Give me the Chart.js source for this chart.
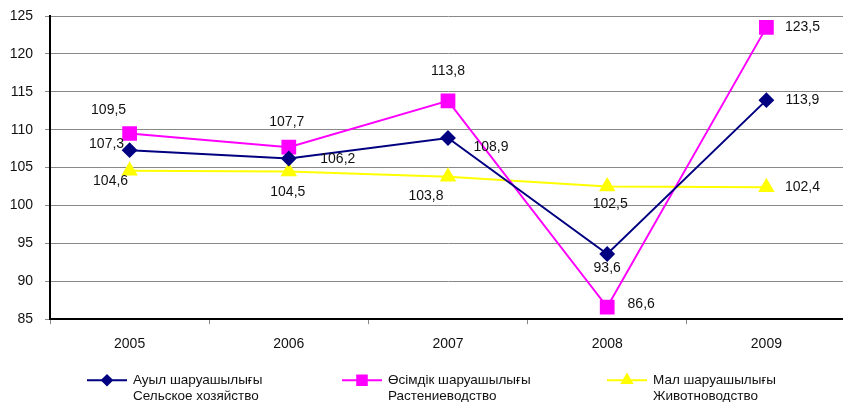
<!DOCTYPE html>
<html>
<head>
<meta charset="utf-8">
<script src="https://cdn.jsdelivr.net/npm/chart.js@4/dist/chart.umd.min.js"></script>
<style>
html,body{margin:0;padding:0;background:#fff;overflow:hidden;}
#wrap{width:843px;height:402px;overflow:hidden;position:relative;}
#c{position:absolute;left:0;top:0;}
</style>
</head>
<body>
<div id="wrap"><canvas id="c" width="857" height="402"></canvas></div>
<script>
const categories = ['2005', '2006', '2007', '2008', '2009'];
const agriculture = [107.3, 106.2, 108.9, 93.6, 113.9];
const cropProduction = [109.5, 107.7, 113.8, 86.6, 123.5];
const livestock = [104.6, 104.5, 103.8, 102.5, 102.4];
const seriesNames = [
  ['Ауыл шаруашылығы', 'Сельское хозяйство'],
  ['Өсімдік шаруашылығы', 'Растениеводство'],
  ['Мал шаруашылығы', 'Животноводство']
];
const yMin = 85, yMax = 125, yStep = 5;

// label offsets (px) relative to each point
const labelOffsets = [
  [[-23,-6],[49,1],[43,9],[0,14],[36,0]],
  [[-21,-23],[-2,-25],[0,-30],[34,-3],[36,0]],
  [[-19,11],[-1,21],[-22,19],[3,18],[36,0]]
];

const FONT = '"Liberation Sans", Arial, sans-serif';
const fmt = v => v.toFixed(1).replace('.', ',');

const labelPlugin = {
  id: 'labels',
  afterDatasetsDraw(chart) {
    const ctx = chart.ctx;
    ctx.save();
    ctx.font = '14px ' + FONT;
    ctx.fillStyle = '#111';
    ctx.textAlign = 'center';
    ctx.textBaseline = 'middle';
    chart.data.datasets.forEach((ds, i) => {
      const meta = chart.getDatasetMeta(i);
      meta.data.forEach((pt, j) => {
        const o = labelOffsets[i][j];
        ctx.fillText(fmt(ds.data[j]), pt.x + o[0], pt.y + o[1]);
      });
    });
    ctx.restore();
  }
};

const legendPlugin = {
  id: 'customLegend',
  afterDraw(chart) {
    const ctx = chart.ctx;
    const y = chart.chartArea.bottom + 61;
    const starts = [87, 342, 607];
    ctx.save();
    chart.data.datasets.forEach((ds, i) => {
      const x0 = starts[i];
      ctx.strokeStyle = ds.borderColor;
      ctx.lineWidth = 2;
      ctx.beginPath();
      ctx.moveTo(x0, y);
      ctx.lineTo(x0 + 40, y);
      ctx.stroke();
      ctx.fillStyle = ds.borderColor;
      Chart.helpers.drawPoint(ctx, {
        pointStyle: ds.pointStyle,
        radius: ds.pointRadius * 0.75,
        borderWidth: 1
      }, x0 + 20, y);
      ctx.fillStyle = '#111';
      ctx.font = '13.5px ' + FONT;
      ctx.textAlign = 'left';
      ctx.textBaseline = 'middle';
      ctx.fillText(seriesNames[i][0], x0 + 46, y);
      ctx.fillText(seriesNames[i][1], x0 + 46, y + 16);
    });
    ctx.restore();
  }
};

const mk = (data, color, style, r) => ({
  data,
  borderColor: color,
  backgroundColor: color,
  pointBackgroundColor: color,
  pointBorderColor: color,
  borderWidth: 2,
  pointStyle: style,
  pointRadius: r,
  pointHoverRadius: r,
  tension: 0
});

new Chart(document.getElementById('c'), {
  type: 'line',
  data: {
    labels: categories,
    datasets: [
      mk(agriculture, '#000080', 'rectRot', 6.5),
      mk(cropProduction, '#FF00FF', 'rect', 9),
      mk(livestock, '#FFFF00', 'triangle', 7.5)
    ]
  },
  options: {
    responsive: false,
    animation: false,
    events: [],
    layout: { padding: { top: 16, right: 4, bottom: 37, left: 0 } },
    plugins: { legend: { display: false }, tooltip: { enabled: false } },
    scales: {
      x: {
        offset: true,
        grid: {
          offset: true,
          drawOnChartArea: false,
          drawTicks: true,
          tickLength: 5,
          tickColor: '#888',
          tickWidth: 1
        },
        border: { display: true, color: '#000', width: 2 },
        ticks: { font: { family: FONT, size: 14 }, color: '#111', padding: 12 }
      },
      y: {
        min: yMin, max: yMax,
        afterFit(s) { s.width = 50; s.paddingTop = 0; s.paddingBottom = 0; },
        grid: {
          color: '#888',
          lineWidth: 1,
          borderDash: [1, 1],
          tickLength: 5,
          tickColor: '#888',
          tickBorderDash: [],
          drawTicks: true
        },
        border: { display: true, color: '#000', width: 2 },
        ticks: { stepSize: yStep, font: { family: FONT, size: 14 }, color: '#111', padding: 12 }
      }
    }
  },
  plugins: [labelPlugin, legendPlugin]
});
</script>
</body>
</html>
